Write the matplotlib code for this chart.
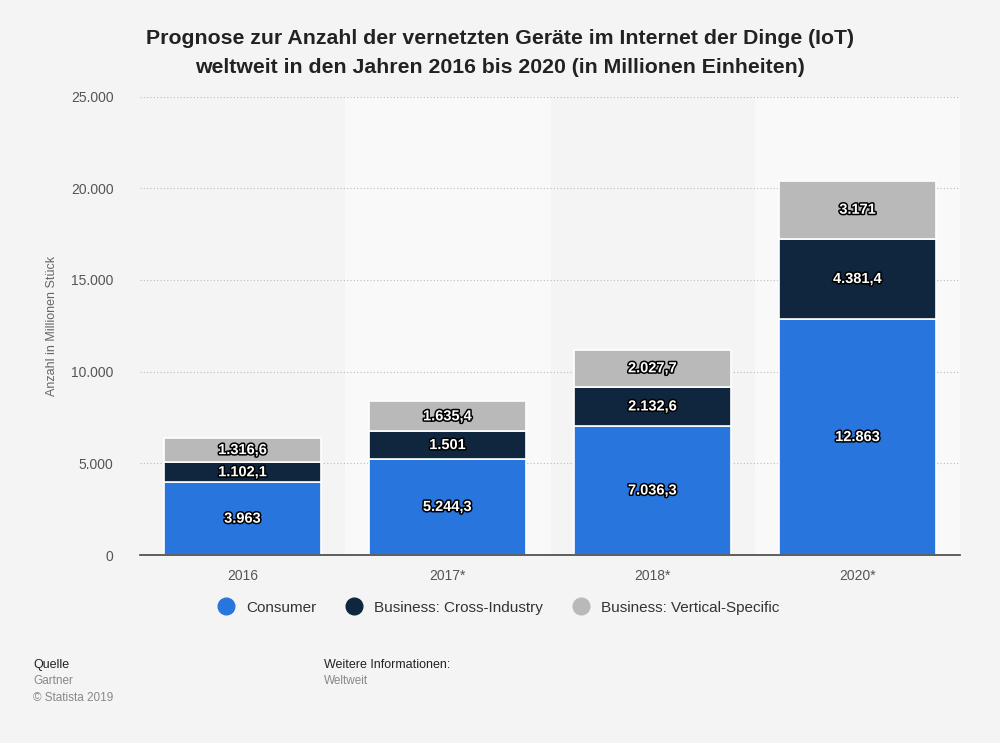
import matplotlib.pyplot as plt
import matplotlib.patheffects as pe
from matplotlib.lines import Line2D

plt.rcParams['font.family'] = ['Liberation Sans', 'DejaVu Sans']

years = ["2016", "2017*", "2018*", "2020*"]
consumer = [3963, 5244.3, 7036.3, 12863]
cross_industry = [1102.1, 1501, 2132.6, 4381.4]
vertical = [1316.6, 1635.4, 2027.7, 3171]
series_names = ["Consumer", "Business: Cross-Industry", "Business: Vertical-Specific"]
colors = ["#2876dd", "#10263e", "#b9b9b9"]


def de_fmt(v):
    if float(v).is_integer():
        s = "{:,.0f}".format(v)
    else:
        s = "{:,.1f}".format(v)
    return s.replace(",", "X").replace(".", ",").replace("X", ".")


fig = plt.figure(figsize=(10, 7.43), dpi=100, facecolor="#f4f4f4")
ax = fig.add_axes([0.14, 0.253, 0.82, 0.617])
ax.set_facecolor("#f4f4f4")

# alternating column bands
for i in range(len(years)):
    if i % 2 == 1:
        ax.axvspan(i - 0.5, i + 0.5, color="#f9f9f9", zorder=0)

x = list(range(len(years)))
bottom = [0] * len(years)
for vals, col in zip([consumer, cross_industry, vertical], colors):
    bars = ax.bar(x, vals, width=0.77, bottom=bottom, color=col,
                  edgecolor="white", linewidth=1.2, zorder=3)
    for xi, b, v in zip(x, bottom, vals):
        ax.text(xi, b + v / 2, de_fmt(v), ha="center", va="center",
                color="white", fontsize=10.5, fontweight="bold", zorder=5,
                path_effects=[pe.withStroke(linewidth=2.2, foreground="black")])
    bottom = [b + v for b, v in zip(bottom, vals)]

ax.set_xlim(-0.5, 3.5)
ax.set_ylim(0, 25000)
ax.set_yticks([0, 5000, 10000, 15000, 20000, 25000])
ax.set_yticklabels([de_fmt(t) for t in ax.get_yticks()])
ax.set_xticks(x)
ax.set_xticklabels(years)
ax.tick_params(axis="both", length=0, colors="#555555", labelsize=10)
ax.tick_params(axis="y", pad=19)
ax.tick_params(axis="x", pad=10)
ax.grid(axis="y", color="#bbbbbb", linestyle=(0, (1, 2)), linewidth=0.8, zorder=1)
ax.set_axisbelow(True)
for s in ["top", "right", "left"]:
    ax.spines[s].set_visible(False)
ax.spines["bottom"].set_color("#444444")
ax.spines["bottom"].set_linewidth(1.2)
ax.spines["bottom"].set_zorder(6)
ax.set_ylabel("Anzahl in Millionen Stück", color="#666666", fontsize=9, labelpad=9)

fig.text(0.5, 0.929, "Prognose zur Anzahl der vernetzten Geräte im Internet der Dinge (IoT)\n"
         "weltweit in den Jahren 2016 bis 2020 (in Millionen Einheiten)",
         ha="center", va="center", fontsize=15.3, fontweight="bold",
         color="#222222", linespacing=1.7)

handles = [Line2D([0], [0], marker="o", linestyle="", markersize=12,
                  markerfacecolor=c, markeredgecolor=c) for c in colors]
fig.legend(handles, series_names, loc="center", bbox_to_anchor=(0.495, 0.182),
           ncol=3, frameon=False, fontsize=11, handletextpad=0.3,
           columnspacing=1.5, labelcolor="#333333")

fig.text(0.033, 0.105, "Quelle", fontsize=9, color="#222222", va="center")
fig.text(0.033, 0.083, "Gartner", fontsize=8.5, color="#888888", va="center")
fig.text(0.033, 0.061, "© Statista 2019", fontsize=8.5, color="#888888", va="center")
fig.text(0.324, 0.105, "Weitere Informationen:", fontsize=9, color="#222222", va="center")
fig.text(0.324, 0.083, "Weltweit", fontsize=8.5, color="#888888", va="center")

fig.savefig("out.png", dpi=100, facecolor=fig.get_facecolor())
